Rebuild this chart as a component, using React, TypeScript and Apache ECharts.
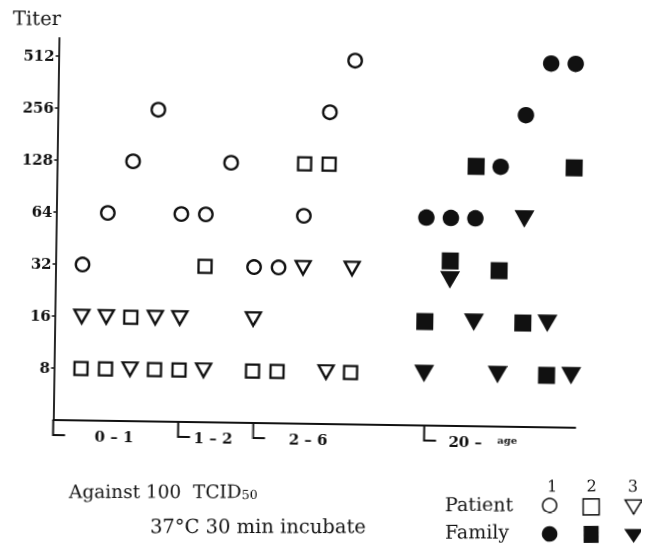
import React, { useEffect, useRef } from 'react';
import * as echarts from 'echarts';

// ---- data ----
const yTickTiters = [8, 16, 32, 64, 128, 256, 512];

// slot = horizontal column index of each specimen (0..20)
const patient1Slots = [0, 1, 2, 3, 4, 5, 6, 7, 8, 9, 10, 11];
const patient1Titers = [32, 64, 128, 256, 64, 64, 128, 32, 32, 64, 256, 512];
const patient2Slots = [0, 1, 2, 3, 4, 5, 7, 8, 9, 10, 11];
const patient2Titers = [8, 8, 16, 8, 8, 32, 8, 8, 128, 128, 8];
const patient3Slots = [0, 1, 2, 3, 4, 5, 7, 9, 10, 11];
const patient3Titers = [16, 16, 8, 16, 16, 8, 16, 32, 8, 32];
const family1Slots = [14, 15, 16, 17, 18, 19, 20];
const family1Titers = [64, 64, 64, 128, 256, 512, 512];
const family2Slots = [14, 15, 16, 17, 18, 19, 20];
const family2Titers = [16, 32, 128, 32, 16, 8, 128];
const family3Slots = [14, 15, 16, 17, 18, 19, 20];
const family3Titers = [8, 32, 16, 8, 64, 16, 8];

const ageGroupLabels = ['0 – 1', '1 – 2', '2 – 6', '20 –', 'age'];
const ageGroupLabelSlots = [1.39, 5.43, 9.31, 15.72, 17.43];
const ageGroupStartSlots = [-1.1, 4.0, 7.06, 14.04];

// ---- style ----
const INK = '#111';
const SERIF = '"DejaVu Serif", "Liberation Serif", serif';
const TILT_DEG = 0.85;
const TH = (TILT_DEG * Math.PI) / 180;
const CX = 322.5;
const CY = 272.5;
// stacked pair at one slot drawn apart vertically (pixel nudge)
const stackNudge: Record<string, Record<number, number>> = {
  'Family 2': { 15: -9 },
  'Family 3': { 15: 10 },
};

function makeSeries(
  name: string,
  slots: number[],
  titers: number[],
  symbol: string,
  filled: boolean,
  size: number | number[],
  rotate: number
) {
  const nudge = stackNudge[name] || {};
  return {
    name,
    type: 'scatter',
    symbol,
    symbolSize: size,
    symbolRotate: rotate,
    silent: true,
    z: filled ? 4 : 3,
    itemStyle: filled
      ? { color: INK, opacity: 1 }
      : { color: '#fff', borderColor: INK, borderWidth: 2.3, opacity: 1 },
    data: slots.map((s, i) => {
      const item: any = { value: [s, Math.log2(titers[i])] };
      if (nudge[s] != null) item.symbolOffset = [0, nudge[s]];
      return item;
    }),
  };
}

function buildOption() {
  const ox = CX - CX * Math.cos(TH) - CY * Math.sin(TH);
  const oy = CY + CX * Math.sin(TH) - CY * Math.cos(TH);
  const yVals = yTickTiters.map((t) => Math.log2(t));

  const textStyle = (size: number, weight: string = 'normal') => ({
    fontSize: size,
    fontFamily: SERIF,
    fontWeight: weight,
    fill: INK,
    align: 'left',
    verticalAlign: 'middle',
  });

  return {
    animation: false,
    backgroundColor: '#fff',
    grid: { left: 55.5, right: 67.5, top: 42, bottom: 121, containLabel: false },
    xAxis: {
      type: 'value',
      min: -1.1,
      max: 20.2,
      axisLine: { show: true, onZero: false, lineStyle: { color: INK, width: 2 } },
      axisTick: { show: false },
      splitLine: { show: false },
      axisLabel: {
        customValues: ageGroupLabelSlots,
        margin: 8,
        color: INK,
        fontSize: 15,
        fontWeight: 'bold',
        fontFamily: SERIF,
        formatter: (v: number) => {
          let best = 0;
          for (let i = 1; i < ageGroupLabelSlots.length; i++) {
            if (Math.abs(ageGroupLabelSlots[i] - v) < Math.abs(ageGroupLabelSlots[best] - v)) best = i;
          }
          const lab = ageGroupLabels[best];
          return lab === 'age' ? '{s|' + lab + '}' : lab;
        },
        rich: {
          s: { fontSize: 10, fontWeight: 'bold', fontFamily: SERIF, color: INK },
        },
      },
    },
    yAxis: {
      type: 'value',
      min: 2,
      max: 9.35,
      axisLine: { show: true, onZero: false, lineStyle: { color: INK, width: 1.8 } },
      axisTick: { show: true, customValues: yVals, length: 3, lineStyle: { color: INK, width: 1.5 } },
      splitLine: { show: false },
      axisLabel: {
        customValues: yVals,
        margin: 4,
        color: INK,
        fontSize: 15,
        fontWeight: 'bold',
        fontFamily: SERIF,
        formatter: (v: number) => String(Math.round(Math.pow(2, v))),
      },
    },
    series: [
      makeSeries('Patient 1', patient1Slots, patient1Titers, 'circle', false, 13.5, 0),
      makeSeries('Patient 2', patient2Slots, patient2Titers, 'rect', false, 13, 0),
      makeSeries('Patient 3', patient3Slots, patient3Titers, 'triangle', false, [15, 13.5], 180),
      makeSeries('Family 1', family1Slots, family1Titers, 'circle', true, 16.5, 0),
      makeSeries('Family 2', family2Slots, family2Titers, 'rect', true, 17, 0),
      makeSeries('Family 3', family3Slots, family3Titers, 'triangle', true, [20, 17.5], 180),
      {
        name: 'age groups',
        type: 'custom',
        silent: true,
        clip: false,
        data: ageGroupStartSlots.map((s) => [s, 2]),
        renderItem: (_p: any, api: any) => {
          const p = api.coord([api.value(0), api.value(1)]);
          return {
            type: 'polyline',
            shape: { points: [[p[0], p[1]], [p[0], p[1] + 15], [p[0] + 12, p[1] + 15]] },
            style: { stroke: INK, lineWidth: 2, fill: 'none' },
          };
        },
      },
    ],
    graphic: [
      {
        type: 'group',
        x: ox,
        y: oy,
        rotation: TH,
        silent: true,
        children: [
          { type: 'text', x: 13, y: 18.5, style: { ...textStyle(19.5), text: 'Titer' } },
          {
            type: 'text',
            x: 69,
            y: 491.5,
            style: {
              ...textStyle(18.5),
              text: 'Against 100  TCID{sub|50}',
              rich: { sub: { fontSize: 12.5, fontFamily: SERIF, fill: INK, verticalAlign: 'bottom' } },
            },
          },
          { type: 'text', x: 150, y: 526.5, style: { ...textStyle(19.5), text: '37°C 30 min incubate' } },
          { type: 'text', x: 445, y: 504, style: { ...textStyle(19), text: 'Patient' } },
          { type: 'text', x: 445, y: 531.5, style: { ...textStyle(19), text: 'Family' } },
          { type: 'text', x: 552, y: 486, style: { ...textStyle(16), align: 'center', text: '1' } },
          { type: 'text', x: 591.5, y: 486, style: { ...textStyle(16), align: 'center', text: '2' } },
          { type: 'text', x: 633, y: 486, style: { ...textStyle(16), align: 'center', text: '3' } },
          { type: 'circle', shape: { cx: 549.5, cy: 505.5, r: 7 }, style: { fill: '#fff', stroke: INK, lineWidth: 1.5 } },
          { type: 'rect', shape: { x: 583, y: 499, width: 16, height: 16 }, style: { fill: '#fff', stroke: INK, lineWidth: 1.5 } },
          { type: 'polygon', shape: { points: [[625, 500], [642, 500], [633.5, 514]] }, style: { fill: '#fff', stroke: INK, lineWidth: 1.5 } },
          { type: 'circle', shape: { cx: 549.5, cy: 534, r: 7.8 }, style: { fill: INK } },
          { type: 'rect', shape: { x: 583.5, y: 526, width: 15, height: 17 }, style: { fill: INK } },
          { type: 'polygon', shape: { points: [[624, 529], [643, 529], [633.5, 543]] }, style: { fill: INK } },
        ],
      },
    ],
  };
}

export default function App() {
  const ref = useRef<HTMLDivElement>(null);
  useEffect(() => {
    if (!ref.current) return;
    const chart = echarts.init(ref.current, null, { renderer: 'svg', width: 645, height: 545 });
    chart.setOption(buildOption() as any);
    return () => chart.dispose();
  }, []);
  return (
    <div
      ref={ref}
      style={{
        position: 'fixed',
        left: 0,
        top: 0,
        width: 645,
        height: 545,
        background: '#fff',
        transform: `rotate(${TILT_DEG}deg)`,
        transformOrigin: `${CX}px ${CY}px`,
      }}
    />
  );
}
